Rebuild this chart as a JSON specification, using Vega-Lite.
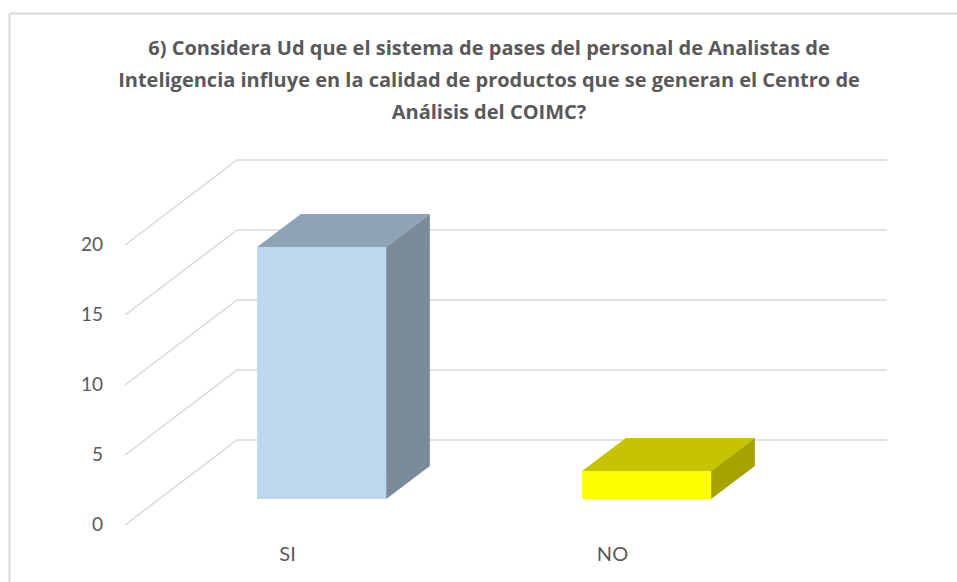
{
  "$schema": "https://vega.github.io/schema/vega-lite/v6.json",
  "width": 948,
  "height": 569,
  "autosize": {"type": "none"},
  "padding": {"left": 9, "top": 13, "right": 0, "bottom": 0},
  "background": "white",
  "title": {
    "text": [
      "6) Considera Ud que el sistema de pases del personal de Analistas de",
      "Inteligencia influye en la calidad de productos que se generan el Centro de",
      "Análisis del COIMC?"
    ],
    "orient": "top",
    "anchor": "middle",
    "frame": "group",
    "offset": -126,
    "baseline": "alphabetic",
    "lineHeight": 32,
    "font": "Open Sans",
    "fontSize": 20,
    "fontWeight": "bold",
    "color": "#595959",
    "dx": 6
  },
  "config": {"view": {"stroke": null}},
  "datasets": {
    "respuestas": [
      {"respuesta": "SI", "cantidad": 18},
      {"respuesta": "NO", "cantidad": 2}
    ],
    "marcas": [{"v": 0}, {"v": 5}, {"v": 10}, {"v": 15}, {"v": 20}]
  },
  "resolve": {"scale": {"color": "independent"}},
  "layer": [
    {
      "data": {"name": "marcas"},
      "transform": [
        {"calculate": "0.3446", "as": "xa"},
        {"calculate": "2.3446", "as": "xb"},
        {"calculate": "datum.v + 6.0714", "as": "yb"}
      ],
      "mark": {"type": "rule", "color": "#d9d9d9", "strokeWidth": 1.5},
      "encoding": {
        "x": {
          "field": "xa", "type": "quantitative",
          "scale": {"domain": [-0.35692, 2.56], "nice": false, "zero": false},
          "axis": {
            "orient": "top", "domain": true, "domainColor": "#d9d9d9", "domainWidth": 2,
            "ticks": false, "labels": false, "grid": false, "title": null
          }
        },
        "x2": {"field": "xb"},
        "y": {
          "field": "yb", "type": "quantitative",
          "scale": {"domain": [-4.0714, 36.5714], "nice": false, "zero": false},
          "axis": {
            "orient": "left", "domain": true, "domainColor": "#d9d9d9", "domainWidth": 2,
            "ticks": false, "labels": false, "grid": false, "title": null
          }
        }
      }
    },
    {
      "data": {"name": "marcas"},
      "transform": [
        {"calculate": "0", "as": "xa"},
        {"calculate": "0.3446", "as": "xb"},
        {"calculate": "datum.v", "as": "ya"},
        {"calculate": "datum.v + 6.0714", "as": "yb"}
      ],
      "mark": {"type": "rule", "color": "#d9d9d9", "strokeWidth": 1.5},
      "encoding": {
        "x": {"field": "xa", "type": "quantitative"},
        "x2": {"field": "xb"},
        "y": {"field": "ya", "type": "quantitative"},
        "y2": {"field": "yb"}
      }
    },
    {
      "data": {"name": "marcas"},
      "transform": [
        {"calculate": "0", "as": "xa"},
        {"calculate": "datum.v", "as": "ya"}
      ],
      "mark": {"type": "text", "align": "right", "baseline": "middle", "dx": -22, "font": "Lato", "fontSize": 19, "color": "#595959"},
      "encoding": {
        "x": {"field": "xa", "type": "quantitative"},
        "y": {"field": "ya", "type": "quantitative"},
        "text": {"field": "v", "type": "quantitative"}
      }
    },
    {
      "data": {"name": "respuestas"},
      "transform": [
        {"window": [{"op": "row_number", "as": "rn"}]},
        {"calculate": "datum.rn - 0.5", "as": "xa"},
        {"calculate": "0", "as": "ya"}
      ],
      "mark": {"type": "text", "align": "center", "baseline": "middle", "dy": 30, "font": "Lato", "fontSize": 20, "color": "#595959"},
      "encoding": {
        "x": {"field": "xa", "type": "quantitative"},
        "y": {"field": "ya", "type": "quantitative"},
        "text": {"field": "respuesta", "type": "nominal"}
      }
    },
    {
      "data": {"name": "respuestas"},
      "transform": [
        {"window": [{"op": "row_number", "as": "rn"}]},
        {"calculate": "datum.rn - 0.5", "as": "c"},
        {"calculate": "datum.c - 0.1985 + 0.305 * 0.3446", "as": "xa"},
        {"calculate": "datum.c + 0.1985 + 0.305 * 0.3446", "as": "xb"},
        {"calculate": "0.305 * 6.0714", "as": "ya"},
        {"calculate": "datum.cantidad + 0.305 * 6.0714", "as": "yb"}
      ],
      "mark": {"type": "bar"},
      "encoding": {
        "x": {"field": "xa", "type": "quantitative"},
        "x2": {"field": "xb"},
        "y": {"field": "ya", "type": "quantitative"},
        "y2": {"field": "yb"},
        "color": {
          "field": "respuesta", "type": "nominal",
          "scale": {"domain": ["SI", "NO"], "range": ["#BDD7EE", "#FFFF00"]},
          "legend": null
        }
      }
    },
    {
      "data": {"name": "respuestas"},
      "transform": [
        {"window": [{"op": "row_number", "as": "rn"}]},
        {"calculate": "datum.rn - 0.5", "as": "c"},
        {"calculate": "0.305", "as": "da"},
        {"calculate": "0.695", "as": "db"},
        {"fold": ["da", "db"], "as": ["k", "d"]},
        {"calculate": "datum.c - 0.1985 + datum.d * 0.3446", "as": "xa"},
        {"calculate": "datum.c + 0.1985 + datum.d * 0.3446", "as": "xb"},
        {"calculate": "datum.cantidad + datum.d * 6.0714", "as": "yb"}
      ],
      "mark": {"type": "area", "orient": "horizontal"},
      "encoding": {
        "y": {"field": "yb", "type": "quantitative"},
        "x": {"field": "xa", "type": "quantitative", "stack": null},
        "x2": {"field": "xb"},
        "color": {
          "field": "respuesta", "type": "nominal",
          "scale": {"domain": ["SI", "NO"], "range": ["#8EA3B5", "#C6C300"]},
          "legend": null
        }
      }
    },
    {
      "data": {"name": "respuestas"},
      "transform": [
        {"window": [{"op": "row_number", "as": "rn"}]},
        {"calculate": "datum.rn - 0.5", "as": "c"},
        {"calculate": "0.305", "as": "da"},
        {"calculate": "0.695", "as": "db"},
        {"fold": ["da", "db"], "as": ["k", "d"]},
        {"calculate": "datum.c + 0.1985 + datum.d * 0.3446", "as": "xa"},
        {"calculate": "datum.d * 6.0714", "as": "ya"},
        {"calculate": "datum.cantidad + datum.d * 6.0714", "as": "yb"}
      ],
      "mark": {"type": "area", "orient": "vertical"},
      "encoding": {
        "x": {"field": "xa", "type": "quantitative"},
        "y": {"field": "yb", "type": "quantitative", "stack": null},
        "y2": {"field": "ya"},
        "color": {
          "field": "respuesta", "type": "nominal",
          "scale": {"domain": ["SI", "NO"], "range": ["#7A8B9B", "#A6A300"]},
          "legend": null
        }
      }
    }
  ]
}
